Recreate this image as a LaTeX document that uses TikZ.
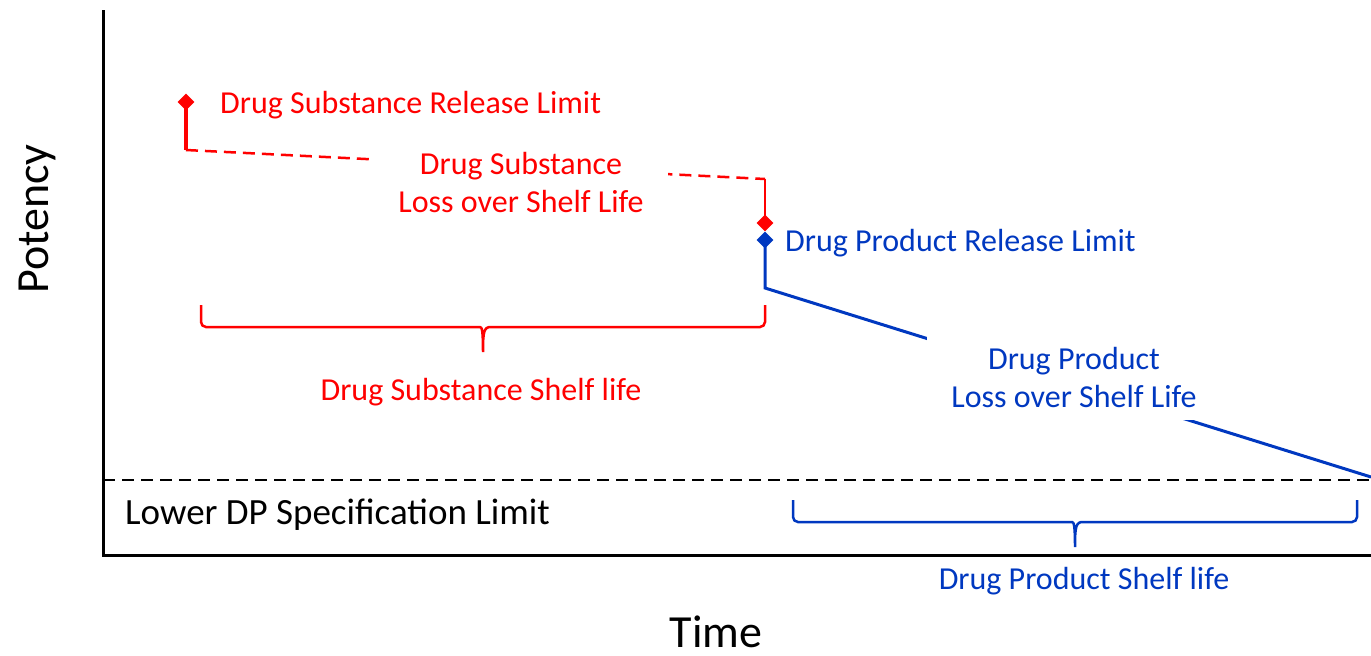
\documentclass[tikz,border=0pt]{standalone}
\usepackage{fontspec}
\setmainfont{Carlito}
\usetikzlibrary{positioning}
\usetikzlibrary{shapes.geometric}
\usetikzlibrary{calc}
\definecolor{dsred}{RGB}{255,0,0}
\definecolor{dpblue}{RGB}{0,56,192}
\tikzstyle{axis}=[draw,line width=3pt]
\tikzstyle{speclimit}=[draw,line width=2.5pt,dash pattern=on 12pt off 7pt]
\tikzstyle{marker}=[diamond,inner sep=0pt,minimum size=17pt]
\tikzstyle{txt}=[font=\fontsize{32}{38}\selectfont,inner sep=0pt]
\tikzstyle{bigtxt}=[font=\fontsize{46}{50}\selectfont,inner sep=0pt]
\tikzstyle{gap}=[txt,align=center,fill=white,inner xsep=24pt,inner ysep=12pt]
\tikzstyle{curly}=[draw,line width=2.5pt,rounded corners=5pt]

\begin{document}
\begin{tikzpicture}[x=1pt,y=-1pt]
    \useasboundingbox (0,0) rectangle (1371,656);

    % axes and the lower spec limit
    \coordinate (top) at (103,10);
    \coordinate (origin) at (103,555);
    \coordinate (right) at (1371,555);
    \path[axis] (top) -- (origin) -- (right);
    \coordinate (lslL) at (103,480);
    \coordinate (lslR) at (1371,480);
    \path[speclimit] (lslL) -- (lslR);
    \node[txt,font=\fontsize{37}{40}\selectfont,anchor=base west] (lsl) at (125,524) {Lower DP Specification Limit};

    % drug substance
    \node[marker,fill=dsred] (dsrel) at (186,102) {};
    \node[marker,fill=dsred] (dsend) at (765,223) {};
    \coordinate (dsbend) at (186,150);
    \coordinate (dscorner) at (765,179);
    \path[draw,dsred,line width=3.5pt] (dsrel.center) -- (dsbend);
    \path[draw,dsred,line width=2.5pt,dash pattern=on 12pt off 7pt] (dsbend) -- (dscorner);
    \path[draw,dsred,line width=2pt] (dscorner) -- (dsend.center);
    \node[txt,text=dsred,anchor=base west] (dsrellbl) at (220,113) {Drug Substance Release Limit};
    \node[gap,text=dsred] (dsloss) at (521,183) {Drug Substance\\Loss over Shelf Life};

    % drug product
    \node[marker,fill=dpblue] (dprel) at (765,240) {};
    \coordinate (dpbend) at (765,288);
    \coordinate (dpend) at (1371,477);
    \path[draw,dpblue,line width=3pt] (dprel.center) -- (dpbend) -- (dpend);
    \node[txt,text=dpblue,anchor=base west] (dprellbl) at (785,251) {Drug Product Release Limit};
    \node[gap,text=dpblue] (dploss) at (1074,378) {Drug Product\\Loss over Shelf Life};

    % shelf life braces
    \foreach \l/\r/\t/\c in {201/765/305/dsred, 793/1357/500/dpblue}{
        \pgfmathsetmacro\m{(\l+\r)/2}
        \path[curly,\c] (\l,\t) -- (\l,\t+22) -- (\m-8,\t+22) [sharp corners]
            .. controls (\m-1,\t+22) and (\m,\t+26) .. (\m,\t+47)
            .. controls (\m,\t+26) and (\m+1,\t+22) .. (\m+8,\t+22) [rounded corners=5pt]
            -- (\r,\t+22) -- (\r,\t);
    }
    \node[txt,text=dsred,anchor=base] (dsshelf) at (481,400) {Drug Substance Shelf life};
    \node[txt,text=dpblue,anchor=base] (dpshelf) at (1084,589) {Drug Product Shelf life};

    % axis titles
    \node[bigtxt,anchor=base] (time) at (716,647) {Time};
    \node[bigtxt,rotate=90,anchor=base] (potency) at (48,219) {Potency};
\end{tikzpicture}
\end{document}
